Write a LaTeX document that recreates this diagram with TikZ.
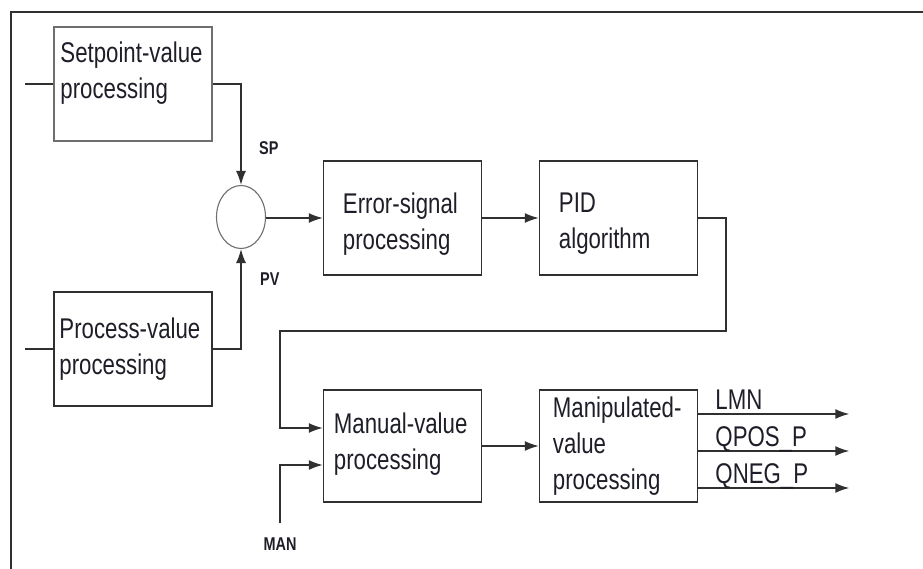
\documentclass[tikz,border=0pt]{standalone}
\usepackage{fontspec}
\setmainfont[FakeStretch=0.78]{Liberation Sans}
\usetikzlibrary{arrows.meta,calc,positioning,shapes.geometric}
\definecolor{pidInk}{HTML}{1E1E28}
\definecolor{pidLine}{HTML}{303030}
\definecolor{pidGrey}{HTML}{6E6E6E}

\begin{document}
\begin{tikzpicture}[
  x=1pt, y=-1pt,
  font=\fontsize{28.5}{36}\selectfont,
  box/.style={draw=pidLine, line width=1.5pt, minimum width=158pt, minimum height=114pt, inner sep=0pt},
  softbox/.style={box, draw=pidGrey},
  boxtext/.style={anchor=north west, align=left, inner sep=0pt, text=pidInk},
  sig/.style={font=\fontsize{18.5}{18.5}\selectfont\bfseries, text=pidInk, inner sep=0pt},
  junction/.style={ellipse, draw=pidGrey, line width=1.1pt, minimum width=49pt, minimum height=63pt, inner sep=0pt},
  wire/.style={draw=pidLine, line width=1.5pt},
  flow/.style={wire, -{Latex[length=14pt, width=10pt]}}
]
  \useasboundingbox (0,0) rectangle (923,569);
  \draw[wire, line width=1.7pt] (11,569) -- (11,12) -- (923,12);

  \node[softbox] (setpoint) at (133,84) {};
  \node[box] (process) at (133,349) {};
  \node[junction] (sum) at (241,217) {};
  \node[box] (error) at (402.5,218) {};
  \node[box] (pid) at (618.5,218) {};
  \node[box, minimum height=112pt] (manual) at (402.5,446) {};
  \node[box, minimum height=112pt] (manip) at (618.5,446) {};

  \node[boxtext] (setpoint-txt) at ($(setpoint.north west)+(7,15)$) {Setpoint-value\\processing};
  \node[boxtext] (process-txt) at ($(process.north west)+(6,26)$) {Process-value\\processing};
  \node[boxtext] (error-txt) at ($(error.north west)+(20,32)$) {Error-signal\\processing};
  \node[boxtext] (pid-txt) at ($(pid.north west)+(20,32)$) {PID\\algorithm};
  \node[boxtext] (manual-txt) at ($(manual.north west)+(11,23)$) {Manual-value\\processing};
  \node[boxtext] (manip-txt) at ($(manip.north west)+(14,7)$) {Manipulated-\\value\\processing};

  \coordinate (spin) at (25,84);
  \coordinate (pvin) at (25,349);
  \coordinate (retr) at (726,331);
  \coordinate (retl) at (280,331);
  \coordinate (manin) at (280,523);

  \draw[wire] (spin) -- (setpoint);
  \draw[wire] (pvin) -- (process);
  \draw[flow] (setpoint.east) -| (sum.north);
  \draw[flow] (process.east) -| (sum.south);
  \node[sig, anchor=base west] (sp-lbl) at ($(sum.north)+(18,-30)$) {SP};
  \node[sig, anchor=base west] (pv-lbl) at ($(sum.south)+(19,36)$) {PV};

  \draw[flow] (sum.east |- error.west) -- (error.west);
  \draw[flow] (error) -- (pid);
  \draw[flow] (pid.east) -| (retr) -- (retl) |- ($(manual.west)+(0,-18)$);
  \draw[flow] (manin) |- ($(manual.west)+(0,19)$);
  \node[sig, below=15pt of manin] (man-lbl) {MAN};
  \draw[flow] (manual) -- (manip);

  \foreach \name/\dy/\txt in {lmn/-32/LMN, qpos/5/QPOS\_P, qneg/42/QNEG\_P} {
    \coordinate (\name) at ($(manip.east)+(151,\dy)$);
    \draw[flow] ($(manip.east)+(0,\dy)$) -- (\name);
    \node[anchor=base west, inner sep=0pt, text=pidInk] (\name-lbl) at ($(manip.east)+(17,\dy-5)$) {\txt};
  }
\end{tikzpicture}
\end{document}
